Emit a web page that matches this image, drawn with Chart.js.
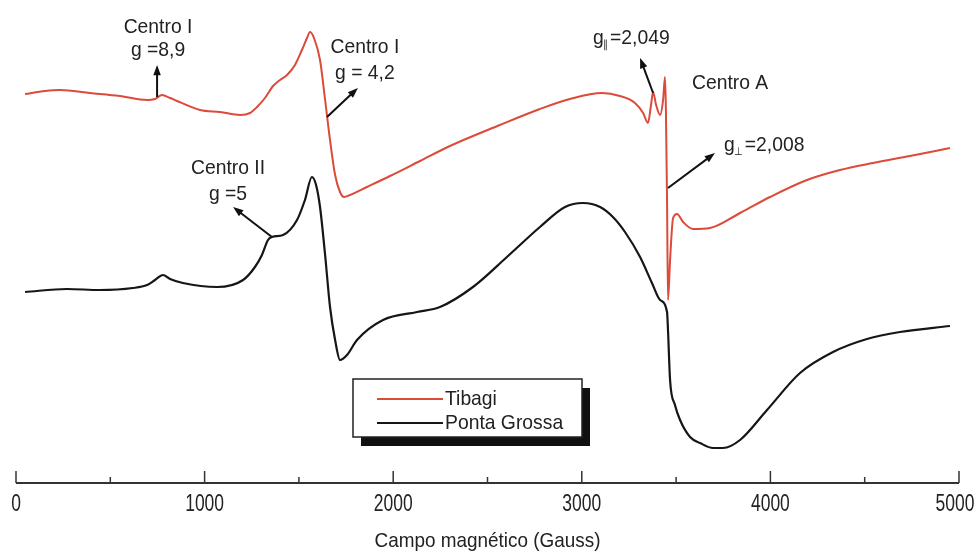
<!DOCTYPE html>
<html>
<head>
<meta charset="utf-8">
<script src="https://cdn.jsdelivr.net/npm/chart.js@4/dist/chart.umd.min.js"></script>
<style>
    html, body { margin: 0; padding: 0; background: #fff; }
    #wrap { width: 975px; height: 553px; }
</style>
</head>
<body>
<div id="wrap"><canvas id="grafico"></canvas></div>
<script>
// Espectros de RPE (intensidade em unidades arbitrárias)
const campoTibagi = [48, 154, 233, 392, 551, 695, 737, 774, 817, 976, 1082, 1188, 1241, 1278, 1320, 1363, 1400, 1437, 1479, 1516, 1543, 1559, 1580, 1612, 1639, 1665, 1692, 1718, 1739, 1771, 1861, 1983, 2142, 2301, 2566, 2778, 2937, 3107, 3202, 3282, 3325, 3351, 3367, 3378, 3394, 3415, 3431, 3441, 3446, 3452, 3457, 3468, 3484, 3505, 3537, 3590, 3680, 3839, 3998, 4194, 4369, 4544, 4740, 4952];
const sinalTibagi = [389, 392, 393, 390, 387, 383, 384, 388, 385, 373, 371, 368, 370, 376, 385, 397, 403, 408, 418, 433, 445, 451, 445, 423, 383, 343, 308, 291, 286, 288, 296, 307, 322, 337, 358, 374, 384, 390, 387, 380, 370, 360, 378, 391, 378, 368, 383, 406, 373, 283, 183, 223, 265, 269, 261, 254, 255, 270, 286, 303, 313, 320, 327, 335];

const campoPonta = [48, 270, 445, 620, 695, 737, 779, 817, 885, 1066, 1204, 1267, 1304, 1336, 1357, 1416, 1490, 1532, 1569, 1591, 1612, 1639, 1665, 1692, 1718, 1755, 1808, 1946, 2126, 2248, 2423, 2603, 2778, 2911, 3006, 3097, 3165, 3229, 3309, 3372, 3415, 3452, 3457, 3468, 3494, 3521, 3574, 3627, 3696, 3749, 3839, 3982, 4157, 4332, 4512, 4687, 4952];
const sinalPonta = [191, 194, 193, 195, 198, 203, 208, 204, 200, 196, 203, 216, 228, 243, 246, 248, 263, 283, 306, 298, 276, 228, 176, 143, 123, 128, 143, 163, 171, 176, 196, 226, 256, 276, 280, 276, 266, 251, 226, 200, 183, 171, 153, 103, 78, 63, 46, 40, 35, 35, 43, 73, 110, 131, 144, 151, 157];

const ticksPrincipais = [0, 1000, 2000, 3000, 4000, 5000];
const ticksMenores = [500, 1500, 2500, 3500, 4500];

const FONTE = '"Liberation Sans", Arimo, sans-serif';
const TITULO_X = 'Campo magnético (Gauss)';

// anotações em coordenadas de dados (Gauss, intensidade)
const anotacoes = [
    { linhas: ['Centro I', 'g =8,9'], x: 753, y: [456, 433], seta: [748, 386, 748, 418] },
    { linhas: ['Centro I', 'g = 4,2'], x: 1850, y: [436, 410], seta: [1649, 366, 1813, 395] },
    { linhas: ['Centro II', 'g =5'], x: 1124, y: [315, 289], seta: [1357, 246, 1151, 276] },
    { linhas: ['Centro A'], x: 3584, y: [400], alinhar: 'left' },
    { sub: '∥', resto: '=2,049', x: 3059, y: 445, seta: [3378, 390, 3309, 425] },
    { sub: '⊥', resto: '=2,008', x: 3754, y: 338, seta: [3457, 295, 3706, 330] }
];

// texto comprimido na horizontal (a fonte original é bem estreita)
function texto(ctx, t, x, y, tam, esc, alinhar) {
    ctx.save();
    ctx.font = tam + 'px ' + FONTE;
    ctx.textAlign = alinhar || 'left';
    ctx.textBaseline = 'middle';
    ctx.translate(x, y);
    ctx.scale(esc, 1);
    ctx.fillText(t, 0, 0);
    const w = ctx.measureText(t).width * esc;
    ctx.restore();
    return w;
}

function desenharSeta(ctx, x1, y1, x2, y2) {
    const ang = Math.atan2(y2 - y1, x2 - x1);
    ctx.strokeStyle = '#111';
    ctx.fillStyle = '#111';
    ctx.lineWidth = 2;
    ctx.beginPath();
    ctx.moveTo(x1, y1);
    ctx.lineTo(x2 - 6 * Math.cos(ang), y2 - 6 * Math.sin(ang));
    ctx.stroke();
    ctx.beginPath();
    ctx.moveTo(x2, y2);
    ctx.lineTo(x2 - 11 * Math.cos(ang - 0.35), y2 - 11 * Math.sin(ang - 0.35));
    ctx.lineTo(x2 - 11 * Math.cos(ang + 0.35), y2 - 11 * Math.sin(ang + 0.35));
    ctx.closePath();
    ctx.fill();
}

const pluginEixo = {
    id: 'eixo',
    afterDraw(chart) {
        const ctx = chart.ctx;
        const sx = chart.scales.x;
        const sy = chart.scales.y;
        const base = chart.chartArea.bottom;
        ctx.save();

        // eixo, marcas e rótulos
        ctx.strokeStyle = '#333';
        ctx.lineWidth = 2;
        ctx.beginPath();
        ctx.moveTo(sx.getPixelForValue(0), base);
        ctx.lineTo(sx.getPixelForValue(5000), base);
        ctx.stroke();
        ctx.lineWidth = 1.5;
        ctx.fillStyle = '#222';
        ticksPrincipais.forEach(v => {
            const px = sx.getPixelForValue(v);
            ctx.beginPath(); ctx.moveTo(px, base); ctx.lineTo(px, base - 12); ctx.stroke();
            // o último rótulo não pode sair da tela
            const cx = Math.min(px, chart.width - 20);
            texto(ctx, String(v), cx, base + 22, 23, 0.76, 'center');
        });
        ticksMenores.forEach(v => {
            const px = sx.getPixelForValue(v);
            ctx.beginPath(); ctx.moveTo(px, base); ctx.lineTo(px, base - 6); ctx.stroke();
        });
        texto(ctx, TITULO_X, (sx.left + sx.right) / 2, base + 58, 21, 0.9, 'center');

        // anotações e setas
        anotacoes.forEach(a => {
            if (a.seta) {
                desenharSeta(ctx,
                    sx.getPixelForValue(a.seta[0]), sy.getPixelForValue(a.seta[1]),
                    sx.getPixelForValue(a.seta[2]), sy.getPixelForValue(a.seta[3]));
            }
            ctx.fillStyle = '#222';
            const px = sx.getPixelForValue(a.x);
            if (a.linhas) {
                a.linhas.forEach((t, i) => texto(ctx, t, px, sy.getPixelForValue(a.y[i]), 21, 0.92, a.alinhar || 'center'));
            } else {
                const py = sy.getPixelForValue(a.y);
                const wg = texto(ctx, 'g', px, py, 21, 0.92);
                const ws = texto(ctx, a.sub, px + wg - 1, py + 7, 11, 0.9);
                texto(ctx, a.resto, px + wg + ws + 1, py, 21, 0.92);
            }
        });

        // legenda com sombra
        const lx = 353, ly = 379, lw = 229, lh = 58;
        ctx.fillStyle = '#111';
        ctx.fillRect(lx + 8, ly + 9, lw, lh);
        ctx.fillStyle = '#fff';
        ctx.fillRect(lx, ly, lw, lh);
        ctx.strokeStyle = '#222';
        ctx.lineWidth = 1.5;
        ctx.strokeRect(lx, ly, lw, lh);
        chart.data.datasets.forEach((ds, i) => {
            const y = ly + 20 + i * 24;
            ctx.strokeStyle = ds.borderColor;
            ctx.lineWidth = 2;
            ctx.beginPath(); ctx.moveTo(lx + 24, y); ctx.lineTo(lx + 90, y); ctx.stroke();
            ctx.fillStyle = '#222';
            texto(ctx, ds.label, lx + 92, y, 21, 0.92);
        });
        ctx.restore();
    }
};

new Chart(document.getElementById('grafico'), {
    type: 'line',
    data: {
        datasets: [
            {
                label: 'Tibagi',
                data: campoTibagi.map((c, i) => ({ x: c, y: sinalTibagi[i] })),
                borderColor: '#dc4a3a',
                borderWidth: 2
            },
            {
                label: 'Ponta Grossa',
                data: campoPonta.map((c, i) => ({ x: c, y: sinalPonta[i] })),
                borderColor: '#161616',
                borderWidth: 2.2
            }
        ]
    },
    options: {
        responsive: true,
        maintainAspectRatio: false,
        animation: false,
        devicePixelRatio: 1,
        layout: { padding: { left: 16, right: 16, top: 10, bottom: 0 } },
        elements: { point: { radius: 0 }, line: { cubicInterpolationMode: 'monotone' } },
        plugins: { legend: { display: false }, tooltip: { enabled: false } },
        scales: {
            x: {
                type: 'linear',
                min: 0,
                max: 5000,
                grid: { display: false, drawTicks: false },
                border: { display: false },
                ticks: { display: false },
                afterFit(s) { s.height = 70; }
            },
            y: { display: false, min: 0, max: 473 }
        }
    },
    plugins: [pluginEixo]
});
</script>
</body>
</html>
